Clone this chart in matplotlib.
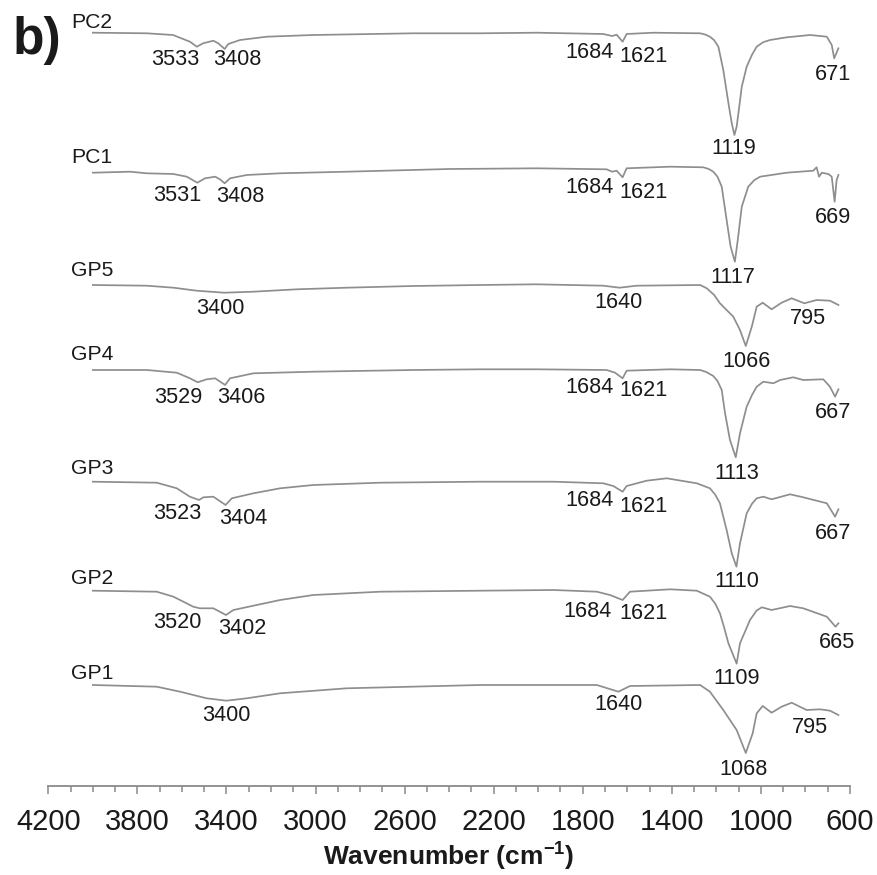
import matplotlib
matplotlib.use("Agg")
import matplotlib.pyplot as plt
from matplotlib.transforms import offset_copy

plt.rcParams['font.family'] = ['Liberation Sans', 'DejaVu Sans']
plt.rcParams['mathtext.fontset'] = 'custom'
plt.rcParams['mathtext.rm'] = 'Liberation Sans'
plt.rcParams['mathtext.bf'] = 'Liberation Sans:bold'

# ---------------- data (wavenumber in cm-1, relative transmittance a.u.) ----------------
samples = ["PC2", "PC1", "GP5", "GP4", "GP3", "GP2", "GP1"]
offsets = [753.0, 613.0, 500.7, 415.7, 304.0, 195.0, 100.7]
name_y = [12.7, 17.7, 16.7, 17.3, 15.7, 14.0, 13.3]

pc2_wn = [4000, 3758, 3640, 3564, 3533, 3505, 3459, 3437, 3408, 3392, 3339, 3219, 3010, 2562, 2261,
          2007, 1708, 1668, 1648, 1621, 1603, 1483, 1273, 1250, 1229, 1210, 1191, 1169, 1146, 1131,
          1119, 1109, 1101, 1086, 1064, 1040, 1019, 990, 959, 884, 779, 704, 682, 671, 652]
pc2_t = [0, -0.6, -2.3, -9, -14, -10.6, -8, -10.6, -16.3, -11.3, -7.3, -4, -2.3, -0.6, -0.6,
         0, -1.3, -3.3, -2, -9, -1.3, 0, -0.6, -1.8, -4, -7.5, -14, -37.3, -70.3, -90.6,
         -102.3, -94, -80.3, -54, -34, -22, -14, -9.5, -7.3, -4.6, -2.3, -4, -12.3, -25.6, -15.6]

pc1_wn = [4000, 3833, 3758, 3638, 3578, 3531, 3496, 3451, 3429, 3408, 3384, 3309, 3159, 2860, 2400,
          2007, 1693, 1668, 1648, 1621, 1603, 1408, 1259, 1235, 1214, 1195, 1176, 1154, 1136, 1117,
          1104, 1086, 1057, 1030, 1004, 884, 765, 750, 739, 727, 697, 682, 669, 660, 652]
pc1_t = [0, 1, -0.6, -1.3, -4, -10, -5.6, -4, -6.6, -10.6, -5.6, -2.3, -0.6, 1, 3.7,
         4.4, 3.4, 1, 2, -4.6, 4.4, 6, 5.4, 3.8, 1, -4, -14, -47.3, -74, -89,
         -67.3, -34, -14, -7.5, -4, 0, 2, 5.4, -4, 0, -1.3, -4, -29, -7.3, -2.3]

gp5_wn = [4000, 3758, 3638, 3534, 3410, 3279, 3084, 2860, 2562, 2261, 2007, 1708, 1635, 1558, 1273,
          1243, 1210, 1184, 1124, 1094, 1068, 1041, 1019, 992, 952, 907, 862, 805, 750, 690, 652]
gp5_t = [0, -0.7, -2.7, -5.7, -7.7, -6.7, -4.3, -2.7, -1, 0, 0.7, -0.7, -2.7, -0.7, 0,
         -3.3, -10, -18.3, -31.7, -45, -61, -41.7, -21.7, -17.7, -24.3, -17.7, -13.3, -18.3, -15,
         -15.7, -20]

gp4_wn = [4000, 3758, 3623, 3564, 3529, 3489, 3451, 3406, 3384, 3279, 3010, 2562, 2261, 2007, 1693,
          1655, 1621, 1603, 1408, 1273, 1245, 1214, 1195, 1176, 1161, 1139, 1113, 1094, 1064, 1040,
          1019, 989, 944, 914, 855, 810, 720, 690, 667, 652]
gp4_t = [0, 0, -2.7, -8.3, -12.3, -9.3, -8.3, -15, -8.3, -3.3, -1.7, 0, 0.7, 0.7, 0,
         -2.7, -8.3, -0.7, 0.7, 0, -2, -6, -11, -20, -43.3, -70, -87.3, -63.3, -36.7, -25,
         -16.7, -11.7, -13.3, -10, -7.3, -10, -9.3, -16.7, -26.7, -19.3]

gp3_wn = [4000, 3713, 3623, 3564, 3523, 3504, 3459, 3437, 3404, 3376, 3279, 3159, 3010, 2710, 2261,
          1932, 1708, 1663, 1621, 1603, 1513, 1423, 1288, 1229, 1205, 1184, 1154, 1131, 1110, 1094,
          1064, 1040, 1019, 989, 952, 869, 810, 704, 667, 652]
gp3_t = [0, -1, -6.6, -15, -18.3, -15.6, -15, -18.3, -23.3, -16.6, -11.6, -6.6, -3.3, -1, 0,
         0, -1.6, -4.3, -10, -4.3, 1, 3.4, -1.6, -6.6, -13, -21.6, -48.3, -71.6, -85, -61.6,
         -31.6, -22, -16.6, -15, -17.6, -12.6, -15.6, -21.6, -35, -27.6]

gp2_wn = [4000, 3713, 3638, 3549, 3520, 3459, 3402, 3369, 3264, 3159, 3010, 2710, 2261, 1932, 1737,
          1678, 1621, 1588, 1408, 1288, 1229, 1205, 1184, 1165, 1146, 1109, 1094, 1049, 1020, 996,
          952, 869, 810, 704, 665, 652]
gp2_t = [0, -1, -6, -16, -17.6, -17.6, -24.3, -19.3, -14.3, -9.3, -4.3, -1, 0, 0.7, -1,
         -4.3, -9.3, -1, 1.4, 0, -6, -13, -22.6, -37, -52.6, -73, -52.6, -29.3, -20, -16.6,
         -19.3, -15.3, -17.6, -26, -36, -32.6]

gp1_wn = [4000, 3713, 3608, 3489, 3400, 3309, 3159, 2860, 2261, 1737, 1640, 1588, 1273, 1229, 1169,
          1109, 1068, 1037, 1019, 992, 952, 907, 862, 795, 734, 690, 652]
gp1_t = [0, -1.7, -6.7, -13.3, -15.7, -13.3, -8.3, -3.3, 0, 0, -6.7, -1, 0, -6.7, -25,
         -45, -68, -48.3, -28.3, -21, -27.7, -21.7, -17.7, -25, -24.3, -25.7, -30]

# peak labels: (text, wavenumber position, relative height of label centre)
pc2_peaks = [("3533", 3628, -25), ("3408", 3351, -25), ("1684", 1772, -17.3), ("1621", 1528, -21.6),
             ("1119", 1124, -113.3), ("671", 678, -40)]
pc1_peaks = [("3531", 3621, -20.6), ("3408", 3336, -21.3), ("1684", 1772, -12.3), ("1621", 1528, -18),
             ("1117", 1124, -102.3), ("669", 675, -42.3)]
gp5_peaks = [("3400", 3429, -21), ("1640", 1640, -15), ("1066", 1064, -74.3), ("795", 787, -31)]
gp4_peaks = [("3529", 3616, -25), ("3406", 3335, -25), ("1684", 1772, -15), ("1621", 1528, -18.3),
             ("1113", 1109, -101.7), ("667", 675, -40.7)]
gp3_peaks = [("3523", 3621, -30), ("3404", 3324, -34.3), ("1684", 1772, -16.6), ("1621", 1528, -22.3),
             ("1110", 1109, -97.3), ("667", 675, -50)]
gp2_peaks = [("3520", 3621, -30), ("3402", 3329, -36), ("1684", 1780, -18.6), ("1621", 1528, -21),
             ("1109", 1109, -85.3), ("665", 660, -50)]
gp1_peaks = [("3400", 3399, -28.3), ("1640", 1640, -17.7), ("1068", 1076, -82.3), ("795", 780, -40)]

major_ticks = [4200, 3800, 3400, 3000, 2600, 2200, 1800, 1400, 1000, 600]
minor_ticks = list(range(4200, 599, -100))

spectra = [(pc2_wn, pc2_t, pc2_peaks), (pc1_wn, pc1_t, pc1_peaks), (gp5_wn, gp5_t, gp5_peaks),
           (gp4_wn, gp4_t, gp4_peaks), (gp3_wn, gp3_t, gp3_peaks), (gp2_wn, gp2_t, gp2_peaks),
           (gp1_wn, gp1_t, gp1_peaks)]

# ---------------- figure ----------------
W, H = 877, 875
fig = plt.figure(figsize=(W / 100, H / 100), dpi=100)
ax = fig.add_axes([48.3 / W, 89.3 / H, 801.7 / W, 785.7 / H])
ax.set_xlim(4200, 600)
ax.set_ylim(0, 785.7)

line_color = '#8e8e8e'
text_color = '#1a1a1a'
label_tr = offset_copy(ax.transData, fig=fig, x=0, y=-5.6, units='points')

for name, off, ny, (wn, t, peaks) in zip(samples, offsets, name_y, spectra):
    ax.plot(wn, [off + v for v in t], color=line_color, lw=1.25, clip_on=False,
            solid_joinstyle='round')
    ax.text(4098, off + ny, name, transform=label_tr, fontsize=15.2, color=text_color,
            ha='left', va='baseline')
    for txt, x, y in peaks:
        ax.text(x, off + y, txt, transform=label_tr, fontsize=15.6, color=text_color,
                ha='center', va='baseline')

for s in ['left', 'right', 'top']:
    ax.spines[s].set_visible(False)
ax.spines['bottom'].set_color('#8a8a8a')
ax.spines['bottom'].set_linewidth(1.3)
ax.set_yticks([])
ax.set_xticks(major_ticks)
ax.set_xticks(minor_ticks, minor=True)
ax.tick_params(axis='x', which='major', direction='out', length=5.8, width=1.1,
               color='#8a8a8a', labelsize=21, labelcolor=text_color, pad=10)
ax.tick_params(axis='x', which='minor', direction='out', length=4.3, width=1.1,
               color='#8a8a8a')

ax.set_xlabel(r'Wavenumber (cm$^{\mathbf{-1}}$)', fontsize=19, fontweight='bold',
              color=text_color)
ax.xaxis.label.set_verticalalignment('baseline')
ax.xaxis.set_label_coords(0.5, -(865 - 785.7) / 785.7)

fig.text(13 / W, 1 - 54 / H, 'b)', fontsize=37, fontweight='bold', color=text_color,
         ha='left', va='baseline')

fig.savefig('out.png', dpi=100)
